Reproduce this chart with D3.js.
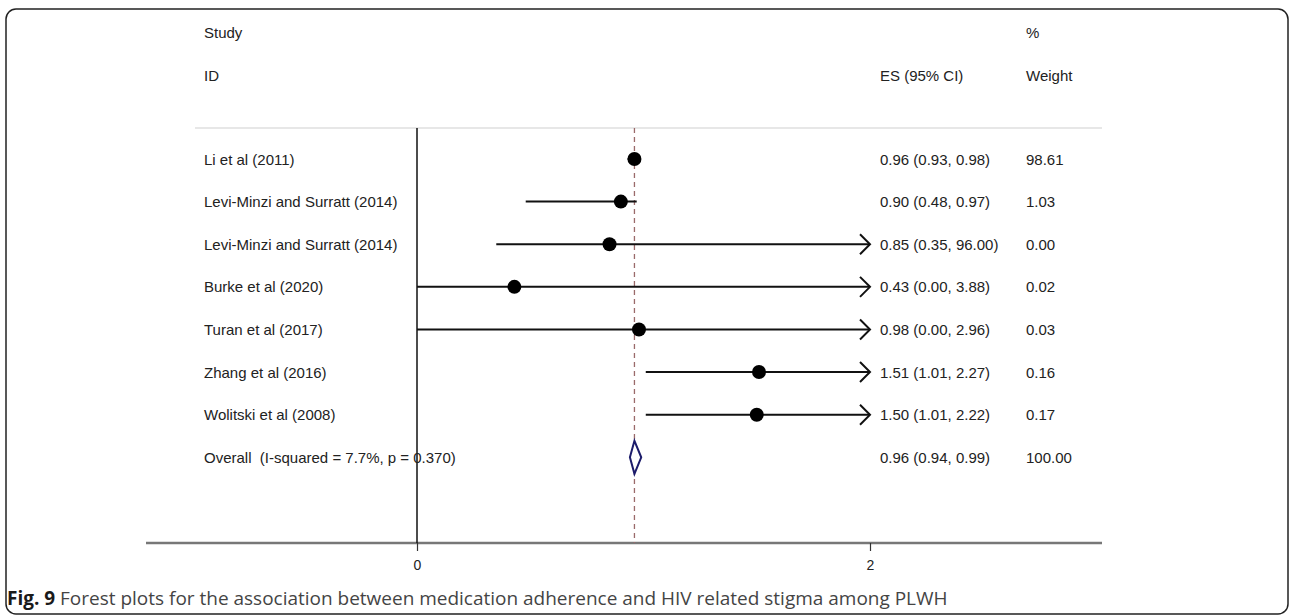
<!DOCTYPE html>
<html>
<head>
<meta charset="utf-8">
<script src="https://cdn.jsdelivr.net/npm/d3@7"></script>
<style>
  html, body { margin: 0; padding: 0; background: #fff; }
  svg { display: block; }
  text { white-space: pre; }
</style>
</head>
<body>
<svg id="chart" width="1290" height="615"></svg>
<script>
// ---- data ----
const studies = [
  "Li et al (2011)",
  "Levi-Minzi and Surratt (2014)",
  "Levi-Minzi and Surratt (2014)",
  "Burke et al (2020)",
  "Turan et al (2017)",
  "Zhang et al (2016)",
  "Wolitski et al (2008)"
];
const es      = [0.96, 0.90, 0.85, 0.43, 0.98, 1.51, 1.50];
const ciLow   = [0.93, 0.48, 0.35, 0.00, 0.00, 1.01, 1.01];
const ciHigh  = [0.98, 0.97, 96.00, 3.88, 2.96, 2.27, 2.22];
const weights = ["98.61", "1.03", "0.00", "0.02", "0.03", "0.16", "0.17"];
const overallLabel = "Overall  (I-squared = 7.7%, p = 0.370)";
const overallES = 0.96, overallLow = 0.94, overallHigh = 0.99;
const overallWeight = "100.00";
const xTicks = [0, 2];
const caption = " Forest plots for the association between medication adherence and HIV related stigma among PLWH";

// ---- layout ----
const svg = d3.select("#chart");
const font = "'Liberation Sans', Arial, sans-serif";
const x = d3.scaleLinear().domain([0, 2]).range([417, 870]);
const clipMin = 0, clipMax = 2;
const rowIdx = d3.range(studies.length + 1);
const y = d3.scalePoint().domain(rowIdx).range([159, 457.3]);
const axisY = 543, topY = 128;
const axisLeft = x.invert(146), axisRight = x.invert(1102);

// frame
svg.append("rect").attr("x", 6).attr("y", 9).attr("width", 1282).attr("height", 605)
  .attr("rx", 10).attr("fill", "none").attr("stroke", "#222").attr("stroke-width", 1.5);

// header
const hdr = svg.append("g").attr("font-family", font).attr("font-size", 15).attr("fill", "#222");
hdr.append("text").attr("x", 204).attr("y", 38).text("Study");
hdr.append("text").attr("x", 204).attr("y", 81).text("ID");
hdr.append("text").attr("x", 880).attr("y", 81).text("ES (95% CI)");
hdr.append("text").attr("x", 1026).attr("y", 38).text("%");
hdr.append("text").attr("x", 1026).attr("y", 81).text("Weight");

// header separator
svg.append("line").attr("x1", 195).attr("x2", 1102).attr("y1", topY).attr("y2", topY)
  .attr("stroke", "#cfcfcf").attr("stroke-width", 1);

// x axis
const axisG = svg.append("g").attr("transform", `translate(0,${axisY})`);
axisG.call(d3.axisBottom(x).tickValues(xTicks).tickFormat(d3.format("d")).tickSize(8).tickPadding(9));
axisG.select(".domain").remove();
axisG.insert("line", ":first-child").attr("x1", x(axisLeft)).attr("x2", x(axisRight))
  .attr("stroke", "#777").attr("stroke-width", 2.5);
axisG.selectAll(".tick line").attr("stroke", "#333").attr("stroke-width", 1.2);
axisG.selectAll(".tick text").attr("font-family", font).attr("font-size", 14).attr("fill", "#222");

// null line at 0
svg.append("line").attr("x1", x(0)).attr("x2", x(0)).attr("y1", topY).attr("y2", axisY)
  .attr("stroke", "#111").attr("stroke-width", 1.5);

// overall dashed line
svg.append("line").attr("x1", x(overallES)).attr("x2", x(overallES)).attr("y1", topY).attr("y2", axisY)
  .attr("stroke", "#9a6a6a").attr("stroke-width", 1.3).attr("stroke-dasharray", "5,4");

// study rows
const rows = svg.append("g");
studies.forEach((s, i) => {
  const yy = y(i);
  const lo = Math.max(ciLow[i], clipMin), hi = Math.min(ciHigh[i], clipMax);
  rows.append("line").attr("x1", x(lo)).attr("x2", x(hi)).attr("y1", yy).attr("y2", yy)
    .attr("stroke", "#111").attr("stroke-width", 2);
  if (ciHigh[i] > clipMax) {
    const tx = x(clipMax);
    rows.append("path").attr("d", `M${tx - 10},${yy - 10}L${tx},${yy}L${tx - 10},${yy + 10}`)
      .attr("fill", "none").attr("stroke", "#111").attr("stroke-width", 2);
  }
  rows.append("circle").attr("cx", x(es[i])).attr("cy", yy).attr("r", 7).attr("fill", "#000");
});

// overall diamond
const oy = y(studies.length);
svg.append("path")
  .attr("d", `M${x(overallLow)},${oy}L${x(overallES)},${oy - 16.5}L${x(overallHigh)},${oy}L${x(overallES)},${oy + 16.5}Z`)
  .attr("fill", "#fff").attr("stroke", "#1c1c6b").attr("stroke-width", 2);

// row texts
const txt = svg.append("g").attr("font-family", font).attr("font-size", 15).attr("fill", "#222");
const fmt = d3.format(".2f");
studies.forEach((s, i) => {
  const yy = y(i) + 5.5;
  txt.append("text").attr("x", 204).attr("y", yy).text(s);
  txt.append("text").attr("x", 880).attr("y", yy)
    .text(`${fmt(es[i])} (${fmt(ciLow[i])}, ${fmt(ciHigh[i])})`);
  txt.append("text").attr("x", 1026).attr("y", yy).text(weights[i]);
});
txt.append("text").attr("x", 204).attr("y", oy + 5.5).text(overallLabel);
txt.append("text").attr("x", 880).attr("y", oy + 5.5)
  .text(`${fmt(overallES)} (${fmt(overallLow)}, ${fmt(overallHigh)})`);
txt.append("text").attr("x", 1026).attr("y", oy + 5.5).text(overallWeight);

// caption
const cap = svg.append("text").attr("x", 7).attr("y", 605)
  .attr("font-family", "'Open Sans', 'Noto Sans', sans-serif").attr("font-size", 17).attr("fill", "#444");
cap.append("tspan").attr("font-weight", "bold").attr("fill", "#1a1a1a").text("Fig. 9");
cap.append("tspan").text(caption);
// fit caption to reference width
const targetW = 941;
const w = cap.node().getComputedTextLength();
cap.attr("font-size", 17 * targetW / w);
</script>
</body>
</html>
